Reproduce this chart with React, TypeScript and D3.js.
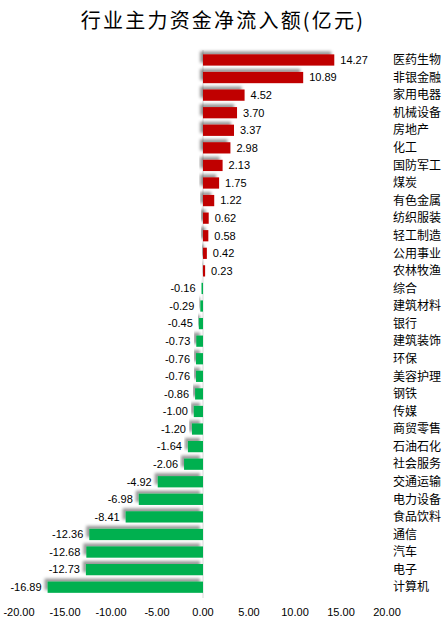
import React from "react";
import * as d3 from "d3";

const categories = ["医药生物","非银金融","家用电器","机械设备","房地产","化工","国防军工","煤炭","有色金属","纺织服装","轻工制造","公用事业","农林牧渔","综合","建筑材料","银行","建筑装饰","环保","美容护理","钢铁","传媒","商贸零售","石油石化","社会服务","交通运输","电力设备","食品饮料","通信","汽车","电子","计算机"];
const values = [14.27,10.89,4.52,3.70,3.37,2.98,2.13,1.75,1.22,0.62,0.58,0.42,0.23,-0.16,-0.29,-0.45,-0.73,-0.76,-0.76,-0.86,-1.00,-1.20,-1.64,-2.06,-4.92,-6.98,-8.41,-12.36,-12.68,-12.73,-16.89];
const xTicks = [-20,-15,-10,-5,0,5,10,15,20];
const title = "行业主力资金净流入额(亿元)";

export default function App() {
  const W = 446, H = 625;
  const x = d3.scaleLinear().domain([-20, 20]).range([19, 387]);
  const y = d3.scaleBand<string>().domain(categories).range([51.2, 596]).paddingInner(0.36).paddingOuter(0.18);
  const bh = y.bandwidth();
  const fmt = (v: number) => v.toFixed(2);
  return (
    <svg width={W} height={H} style={{ position: "absolute", left: 0, top: 0, background: "#fff" }}>
      <defs>
        <filter id="sh" x="-20%" y="-80%" width="140%" height="260%">
          <feDropShadow dx={-3} dy={-3} stdDeviation={1.8} floodColor="#000" floodOpacity={0.4} />
        </filter>
      </defs>
      <text x={223} y={28} textAnchor="middle" fontFamily="'Noto Sans CJK SC'" fontSize={20} letterSpacing={2.2} fill="#000">{title}</text>
      <line x1={x(0)} x2={x(0)} y1={50} y2={598} stroke="#d9d9d9" strokeWidth={1} />
      {categories.map((c, i) => {
        const v = values[i];
        const x0 = Math.min(x(0), x(v));
        const w = Math.abs(x(v) - x(0));
        const yy = y(c)!;
        const cy = yy + bh / 2;
        return (
          <g key={c}>
            <rect x={x0} y={yy} width={w} height={bh} fill={v >= 0 ? "#C00000" : "#00B050"} filter="url(#sh)" />
            <text x={v >= 0 ? x(v) + 6 : x(v) - 6} y={cy} dy="0.35em" textAnchor={v >= 0 ? "start" : "end"}
              fontFamily="'Liberation Sans', sans-serif" fontSize={11} fill="#000">{fmt(v)}</text>
            <text x={393} y={cy} dy="0.35em" fontFamily="'Noto Sans CJK SC'" fontSize={12} fill="#000">{c}</text>
          </g>
        );
      })}
      {xTicks.map(t => (
        <text key={t} x={x(t)} y={616} textAnchor="middle" fontFamily="'Liberation Sans', sans-serif" fontSize={11} fill="#000">{fmt(t)}</text>
      ))}
    </svg>
  );
}
